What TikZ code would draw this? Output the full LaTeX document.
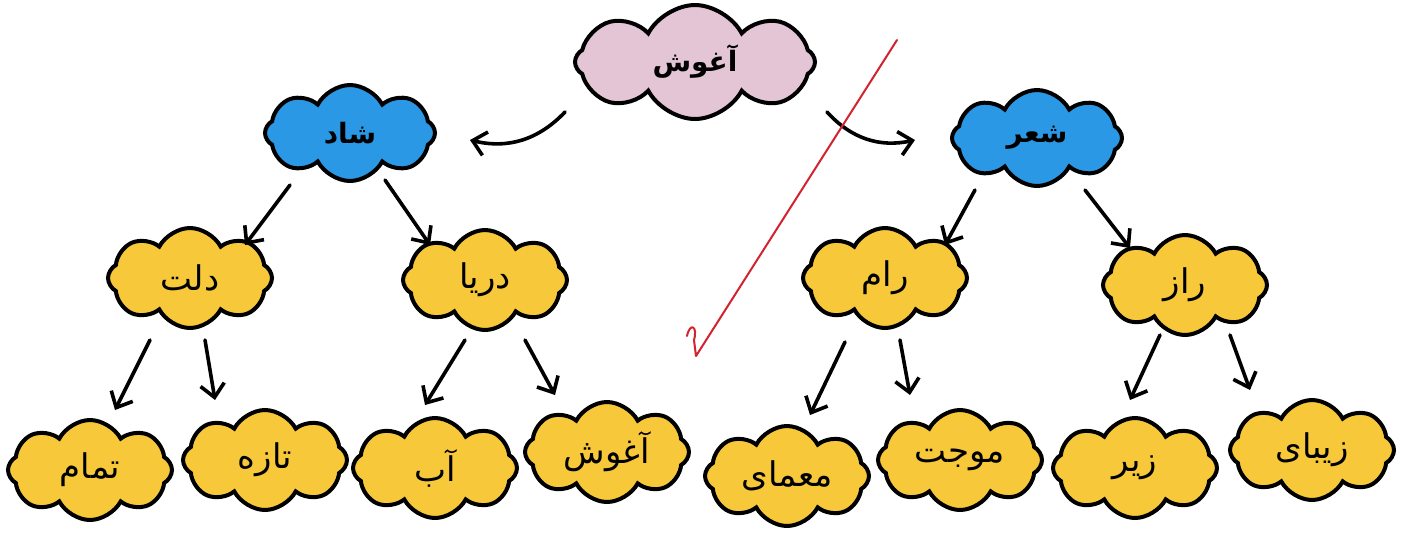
\documentclass[tikz,border=0pt]{standalone}
\usepackage{fontspec}
\newfontfamily\fa[Script=Arabic]{DejaVu Sans}
\TeXXeTstate=1
\usetikzlibrary{shapes.symbols,arrows.meta,calc}
\definecolor{cyel}{HTML}{F6C83A}
\definecolor{cblue}{HTML}{2A98E4}
\definecolor{cpink}{HTML}{E3C5D6}
\definecolor{cred}{HTML}{D2232F}
\tikzset{
  cl/.style={cloud, cloud puffs=8, cloud puff arc=125, cloud ignores aspect,
    draw=black, line width=2pt, inner sep=0pt},
  printed/.style={font=\fa\bfseries\fontsize{14}{16}\selectfont},
  hand/.style={font=\fa\fontsize{17}{20}\selectfont},
  ylw/.style={cl, hand, fill=cyel, minimum width=82pt, minimum height=50pt},
  blu/.style={cl, printed, fill=cblue, minimum width=85pt, minimum height=48pt},
  pnk/.style={cl, printed, fill=cpink, minimum width=120pt, minimum height=57pt},
  arr/.style={-{Straight Barb[length=6.5pt,width=12pt]}, line width=1.8pt, line cap=round},
}
\begin{document}
\begin{tikzpicture}[x=0.5pt,y=-0.5pt]
\fill[white] (0,0) rectangle (1409,532);
\useasboundingbox (0,0) rectangle (1409,532);
% nodes
\node[pnk] (top) at (695,62) {\beginR آغوش\endR};
\node[blu] (shad) at (350,133) {\beginR شاد\endR};
\node[blu] (sher) at (1037,138) {\beginR شعر\endR};
\node[ylw] (dalat) at (190,278) {\beginR دلت\endR};
\node[ylw] (darya) at (485,280) {\beginR دریا\endR};
\node[ylw] (ram) at (885,278) {\beginR رام\endR};
\node[ylw] (raz) at (1185,285) {\beginR راز\endR};
\node[ylw] (tamam) at (90,470) {\beginR تمام\endR};
\node[ylw] (taze) at (265,460) {\beginR تازه\endR};
\node[ylw] (ab) at (435,468) {\beginR آب\endR};
\node[ylw] (aghush) at (607,452) {\beginR آغوش\endR};
\node[ylw] (moamay) at (787,476) {\beginR معمای\endR};
\node[ylw] (mojat) at (960,460) {\beginR موجت\endR};
\node[ylw] (zir) at (1135,468) {\beginR زیر\endR};
\node[ylw] (zibay) at (1312,450) {\beginR زیبای\endR};
% connectors
\draw[arr] ($(top)+(-130,50)$) to[bend left=30] ($(shad)+(120,7)$);
\draw[arr] ($(top)+(132,50)$) to[bend right=30] ($(sher)+(-122,2)$);
\draw[arr] ($(shad)+(-60,52)$) -- ($(dalat)+(55,-33)$);
\draw[arr] ($(shad)+(35,47)$) -- ($(darya)+(-55,-35)$);
\draw[arr] ($(dalat)+(-40,62)$) -- ($(tamam)+(25,-60)$);
\draw[arr] ($(dalat)+(15,62)$) -- ($(taze)+(-50,-60)$);
\draw[arr] ($(darya)+(-20,60)$) -- ($(ab)+(-10,-63)$);
\draw[arr] ($(darya)+(40,60)$) -- ($(aghush)+(-52,-57)$);
\draw[arr] ($(sher)+(-62,52)$) -- ($(ram)+(60,-33)$);
\draw[arr] ($(sher)+(48,52)$) -- ($(raz)+(-55,-37)$);
\draw[arr] ($(ram)+(-40,64)$) -- ($(moamay)+(23,-61)$);
\draw[arr] ($(ram)+(15,62)$) -- ($(mojat)+(-50,-65)$);
\draw[arr] ($(raz)+(-25,50)$) -- ($(zir)+(-5,-68)$);
\draw[arr] ($(raz)+(45,50)$) -- ($(zibay)+(-62,-60)$);
% red check mark
\draw[cred, line width=1pt, line join=round, line cap=round]
  (687,336) .. controls (690,322) and (698,326) .. (694,340) -- (696,356) -- (897,40);
\end{tikzpicture}
\end{document}
